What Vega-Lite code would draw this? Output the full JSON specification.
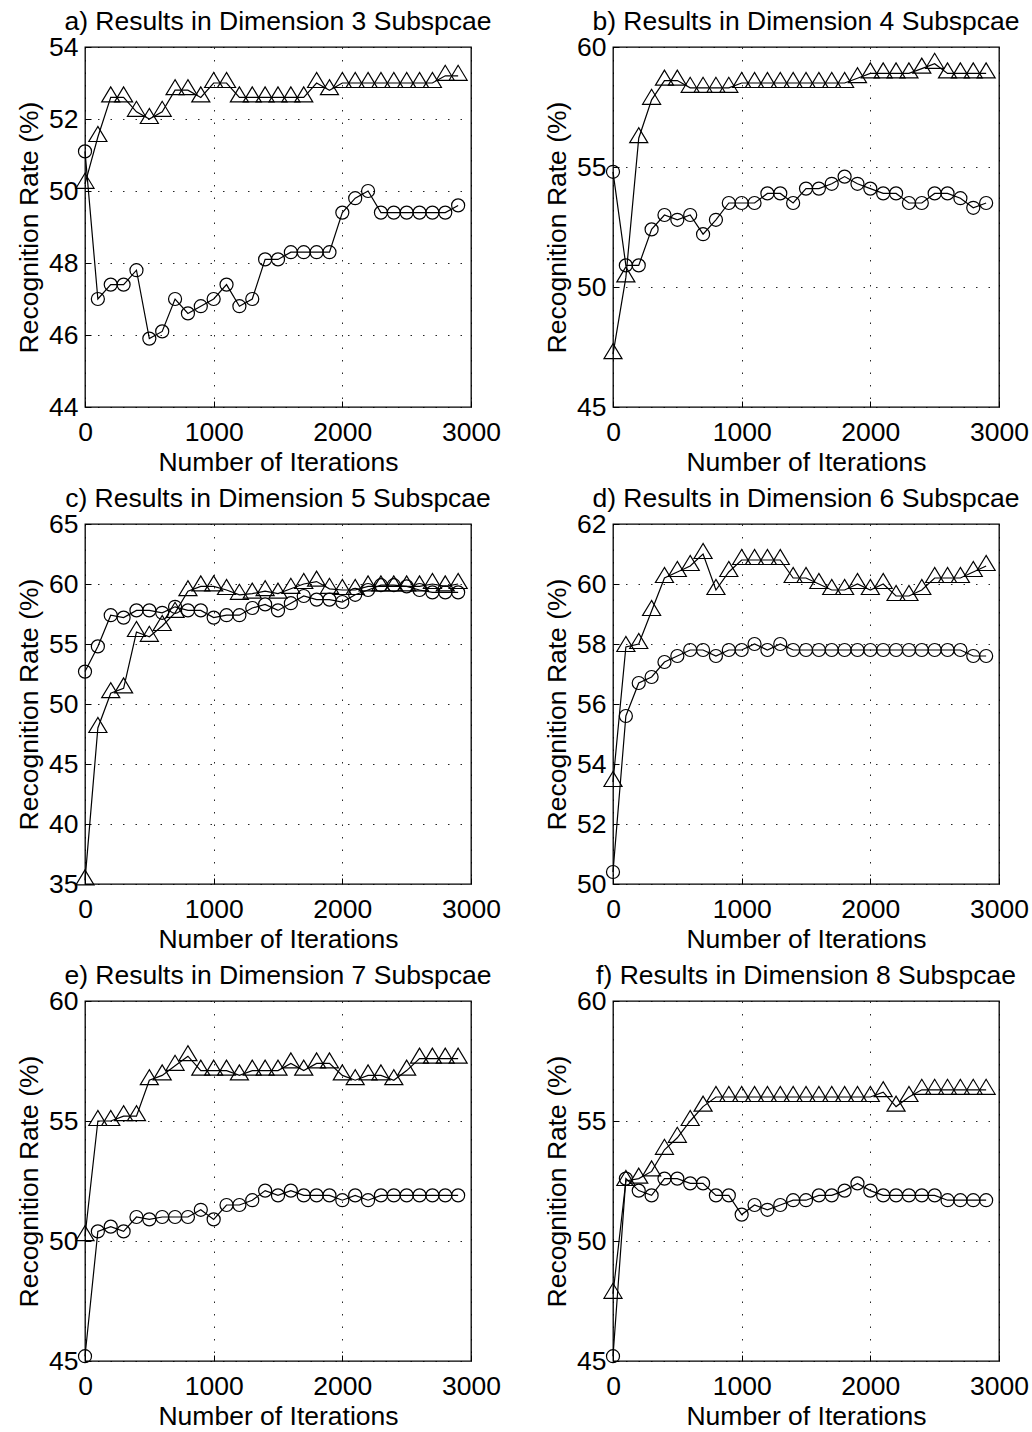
{
"$schema": "https://vega.github.io/schema/vega-lite/v6.json",
"padding": {"left": 15, "top": 7, "right": 5, "bottom": 5},
"bounds": "flush",
"columns": 2,
"spacing": {"row": 117, "column": 142},
"config": {
  "font": "Liberation Sans",
  "view": {"stroke": "#000", "strokeWidth": 1.3},
  "axis": {"domain": false, "grid": true, "gridColor": "#000", "gridDash": [1.5, 11], "gridWidth": 1, "gridOpacity": 0.85,
           "ticks": true, "tickSize": -6, "tickColor": "#000", "tickWidth": 1,
           "labelFont": "Liberation Sans", "labelFontSize": 26.5, "labelColor": "#000",
           "titleFont": "Liberation Sans", "titleFontSize": 26.5, "titleFontWeight": "normal", "titleColor": "#000",
           "labelFlush": false, "labelOverlap": false, "labelBound": false, "format": "d"},
  "axisX": {"labelPadding": 18, "titleY": 55, "titleBaseline": "middle"},
  "axisY": {"labelPadding": 13, "titleX": -56, "titleY": 180, "titleBaseline": "middle", "titleAlign": "center"},
  "title": {"fontSize": 26.5, "fontWeight": "normal", "color": "#000", "offset": -1, "baseline": "bottom", "anchor": "middle", "font": "Liberation Sans"}
},
"datasets": {
"rates": [
{"panel":"a","series":"circle","iteration":0,"rate":51.1},
{"panel":"a","series":"circle","iteration":100,"rate":47.0},
{"panel":"a","series":"circle","iteration":200,"rate":47.4},
{"panel":"a","series":"circle","iteration":300,"rate":47.4},
{"panel":"a","series":"circle","iteration":400,"rate":47.8},
{"panel":"a","series":"circle","iteration":500,"rate":45.9},
{"panel":"a","series":"circle","iteration":600,"rate":46.1},
{"panel":"a","series":"circle","iteration":700,"rate":47.0},
{"panel":"a","series":"circle","iteration":800,"rate":46.6},
{"panel":"a","series":"circle","iteration":900,"rate":46.8},
{"panel":"a","series":"circle","iteration":1000,"rate":47.0},
{"panel":"a","series":"circle","iteration":1100,"rate":47.4},
{"panel":"a","series":"circle","iteration":1200,"rate":46.8},
{"panel":"a","series":"circle","iteration":1300,"rate":47.0},
{"panel":"a","series":"circle","iteration":1400,"rate":48.1},
{"panel":"a","series":"circle","iteration":1500,"rate":48.1},
{"panel":"a","series":"circle","iteration":1600,"rate":48.3},
{"panel":"a","series":"circle","iteration":1700,"rate":48.3},
{"panel":"a","series":"circle","iteration":1800,"rate":48.3},
{"panel":"a","series":"circle","iteration":1900,"rate":48.3},
{"panel":"a","series":"circle","iteration":2000,"rate":49.4},
{"panel":"a","series":"circle","iteration":2100,"rate":49.8},
{"panel":"a","series":"circle","iteration":2200,"rate":50.0},
{"panel":"a","series":"circle","iteration":2300,"rate":49.4},
{"panel":"a","series":"circle","iteration":2400,"rate":49.4},
{"panel":"a","series":"circle","iteration":2500,"rate":49.4},
{"panel":"a","series":"circle","iteration":2600,"rate":49.4},
{"panel":"a","series":"circle","iteration":2700,"rate":49.4},
{"panel":"a","series":"circle","iteration":2800,"rate":49.4},
{"panel":"a","series":"circle","iteration":2900,"rate":49.6},
{"panel":"a","series":"triangle","iteration":0,"rate":50.2},
{"panel":"a","series":"triangle","iteration":100,"rate":51.5},
{"panel":"a","series":"triangle","iteration":200,"rate":52.6},
{"panel":"a","series":"triangle","iteration":300,"rate":52.6},
{"panel":"a","series":"triangle","iteration":400,"rate":52.2},
{"panel":"a","series":"triangle","iteration":500,"rate":52.0},
{"panel":"a","series":"triangle","iteration":600,"rate":52.2},
{"panel":"a","series":"triangle","iteration":700,"rate":52.8},
{"panel":"a","series":"triangle","iteration":800,"rate":52.8},
{"panel":"a","series":"triangle","iteration":900,"rate":52.6},
{"panel":"a","series":"triangle","iteration":1000,"rate":53.0},
{"panel":"a","series":"triangle","iteration":1100,"rate":53.0},
{"panel":"a","series":"triangle","iteration":1200,"rate":52.6},
{"panel":"a","series":"triangle","iteration":1300,"rate":52.6},
{"panel":"a","series":"triangle","iteration":1400,"rate":52.6},
{"panel":"a","series":"triangle","iteration":1500,"rate":52.6},
{"panel":"a","series":"triangle","iteration":1600,"rate":52.6},
{"panel":"a","series":"triangle","iteration":1700,"rate":52.6},
{"panel":"a","series":"triangle","iteration":1800,"rate":53.0},
{"panel":"a","series":"triangle","iteration":1900,"rate":52.8},
{"panel":"a","series":"triangle","iteration":2000,"rate":53.0},
{"panel":"a","series":"triangle","iteration":2100,"rate":53.0},
{"panel":"a","series":"triangle","iteration":2200,"rate":53.0},
{"panel":"a","series":"triangle","iteration":2300,"rate":53.0},
{"panel":"a","series":"triangle","iteration":2400,"rate":53.0},
{"panel":"a","series":"triangle","iteration":2500,"rate":53.0},
{"panel":"a","series":"triangle","iteration":2600,"rate":53.0},
{"panel":"a","series":"triangle","iteration":2700,"rate":53.0},
{"panel":"a","series":"triangle","iteration":2800,"rate":53.2},
{"panel":"a","series":"triangle","iteration":2900,"rate":53.2},
{"panel":"b","series":"circle","iteration":0,"rate":54.8},
{"panel":"b","series":"circle","iteration":100,"rate":50.9},
{"panel":"b","series":"circle","iteration":200,"rate":50.9},
{"panel":"b","series":"circle","iteration":300,"rate":52.4},
{"panel":"b","series":"circle","iteration":400,"rate":53.0},
{"panel":"b","series":"circle","iteration":500,"rate":52.8},
{"panel":"b","series":"circle","iteration":600,"rate":53.0},
{"panel":"b","series":"circle","iteration":700,"rate":52.2},
{"panel":"b","series":"circle","iteration":800,"rate":52.8},
{"panel":"b","series":"circle","iteration":900,"rate":53.5},
{"panel":"b","series":"circle","iteration":1000,"rate":53.5},
{"panel":"b","series":"circle","iteration":1100,"rate":53.5},
{"panel":"b","series":"circle","iteration":1200,"rate":53.9},
{"panel":"b","series":"circle","iteration":1300,"rate":53.9},
{"panel":"b","series":"circle","iteration":1400,"rate":53.5},
{"panel":"b","series":"circle","iteration":1500,"rate":54.1},
{"panel":"b","series":"circle","iteration":1600,"rate":54.1},
{"panel":"b","series":"circle","iteration":1700,"rate":54.3},
{"panel":"b","series":"circle","iteration":1800,"rate":54.6},
{"panel":"b","series":"circle","iteration":1900,"rate":54.3},
{"panel":"b","series":"circle","iteration":2000,"rate":54.1},
{"panel":"b","series":"circle","iteration":2100,"rate":53.9},
{"panel":"b","series":"circle","iteration":2200,"rate":53.9},
{"panel":"b","series":"circle","iteration":2300,"rate":53.5},
{"panel":"b","series":"circle","iteration":2400,"rate":53.5},
{"panel":"b","series":"circle","iteration":2500,"rate":53.9},
{"panel":"b","series":"circle","iteration":2600,"rate":53.9},
{"panel":"b","series":"circle","iteration":2700,"rate":53.7},
{"panel":"b","series":"circle","iteration":2800,"rate":53.3},
{"panel":"b","series":"circle","iteration":2900,"rate":53.5},
{"panel":"b","series":"triangle","iteration":0,"rate":47.2},
{"panel":"b","series":"triangle","iteration":100,"rate":50.4},
{"panel":"b","series":"triangle","iteration":200,"rate":56.2},
{"panel":"b","series":"triangle","iteration":300,"rate":57.8},
{"panel":"b","series":"triangle","iteration":400,"rate":58.6},
{"panel":"b","series":"triangle","iteration":500,"rate":58.6},
{"panel":"b","series":"triangle","iteration":600,"rate":58.3},
{"panel":"b","series":"triangle","iteration":700,"rate":58.3},
{"panel":"b","series":"triangle","iteration":800,"rate":58.3},
{"panel":"b","series":"triangle","iteration":900,"rate":58.3},
{"panel":"b","series":"triangle","iteration":1000,"rate":58.5},
{"panel":"b","series":"triangle","iteration":1100,"rate":58.5},
{"panel":"b","series":"triangle","iteration":1200,"rate":58.5},
{"panel":"b","series":"triangle","iteration":1300,"rate":58.5},
{"panel":"b","series":"triangle","iteration":1400,"rate":58.5},
{"panel":"b","series":"triangle","iteration":1500,"rate":58.5},
{"panel":"b","series":"triangle","iteration":1600,"rate":58.5},
{"panel":"b","series":"triangle","iteration":1700,"rate":58.5},
{"panel":"b","series":"triangle","iteration":1800,"rate":58.5},
{"panel":"b","series":"triangle","iteration":1900,"rate":58.7},
{"panel":"b","series":"triangle","iteration":2000,"rate":58.9},
{"panel":"b","series":"triangle","iteration":2100,"rate":58.9},
{"panel":"b","series":"triangle","iteration":2200,"rate":58.9},
{"panel":"b","series":"triangle","iteration":2300,"rate":58.9},
{"panel":"b","series":"triangle","iteration":2400,"rate":59.1},
{"panel":"b","series":"triangle","iteration":2500,"rate":59.3},
{"panel":"b","series":"triangle","iteration":2600,"rate":58.9},
{"panel":"b","series":"triangle","iteration":2700,"rate":58.9},
{"panel":"b","series":"triangle","iteration":2800,"rate":58.9},
{"panel":"b","series":"triangle","iteration":2900,"rate":58.9},
{"panel":"c","series":"circle","iteration":0,"rate":52.7},
{"panel":"c","series":"circle","iteration":100,"rate":54.8},
{"panel":"c","series":"circle","iteration":200,"rate":57.4},
{"panel":"c","series":"circle","iteration":300,"rate":57.2},
{"panel":"c","series":"circle","iteration":400,"rate":57.8},
{"panel":"c","series":"circle","iteration":500,"rate":57.8},
{"panel":"c","series":"circle","iteration":600,"rate":57.6},
{"panel":"c","series":"circle","iteration":700,"rate":58.1},
{"panel":"c","series":"circle","iteration":800,"rate":57.8},
{"panel":"c","series":"circle","iteration":900,"rate":57.8},
{"panel":"c","series":"circle","iteration":1000,"rate":57.2},
{"panel":"c","series":"circle","iteration":1100,"rate":57.4},
{"panel":"c","series":"circle","iteration":1200,"rate":57.4},
{"panel":"c","series":"circle","iteration":1300,"rate":58.0},
{"panel":"c","series":"circle","iteration":1400,"rate":58.3},
{"panel":"c","series":"circle","iteration":1500,"rate":57.8},
{"panel":"c","series":"circle","iteration":1600,"rate":58.4},
{"panel":"c","series":"circle","iteration":1700,"rate":59.0},
{"panel":"c","series":"circle","iteration":1800,"rate":58.7},
{"panel":"c","series":"circle","iteration":1900,"rate":58.7},
{"panel":"c","series":"circle","iteration":2000,"rate":58.5},
{"panel":"c","series":"circle","iteration":2100,"rate":59.1},
{"panel":"c","series":"circle","iteration":2200,"rate":59.5},
{"panel":"c","series":"circle","iteration":2300,"rate":59.9},
{"panel":"c","series":"circle","iteration":2400,"rate":59.9},
{"panel":"c","series":"circle","iteration":2500,"rate":59.8},
{"panel":"c","series":"circle","iteration":2600,"rate":59.5},
{"panel":"c","series":"circle","iteration":2700,"rate":59.3},
{"panel":"c","series":"circle","iteration":2800,"rate":59.3},
{"panel":"c","series":"circle","iteration":2900,"rate":59.3},
{"panel":"c","series":"triangle","iteration":0,"rate":35.3},
{"panel":"c","series":"triangle","iteration":100,"rate":48.0},
{"panel":"c","series":"triangle","iteration":200,"rate":50.9},
{"panel":"c","series":"triangle","iteration":300,"rate":51.3},
{"panel":"c","series":"triangle","iteration":400,"rate":56.0},
{"panel":"c","series":"triangle","iteration":500,"rate":55.6},
{"panel":"c","series":"triangle","iteration":600,"rate":56.5},
{"panel":"c","series":"triangle","iteration":700,"rate":57.6},
{"panel":"c","series":"triangle","iteration":800,"rate":59.4},
{"panel":"c","series":"triangle","iteration":900,"rate":59.8},
{"panel":"c","series":"triangle","iteration":1000,"rate":59.8},
{"panel":"c","series":"triangle","iteration":1100,"rate":59.5},
{"panel":"c","series":"triangle","iteration":1200,"rate":59.1},
{"panel":"c","series":"triangle","iteration":1300,"rate":59.2},
{"panel":"c","series":"triangle","iteration":1400,"rate":59.4},
{"panel":"c","series":"triangle","iteration":1500,"rate":59.2},
{"panel":"c","series":"triangle","iteration":1600,"rate":59.6},
{"panel":"c","series":"triangle","iteration":1700,"rate":60.0},
{"panel":"c","series":"triangle","iteration":1800,"rate":60.2},
{"panel":"c","series":"triangle","iteration":1900,"rate":59.6},
{"panel":"c","series":"triangle","iteration":2000,"rate":59.5},
{"panel":"c","series":"triangle","iteration":2100,"rate":59.5},
{"panel":"c","series":"triangle","iteration":2200,"rate":59.8},
{"panel":"c","series":"triangle","iteration":2300,"rate":59.8},
{"panel":"c","series":"triangle","iteration":2400,"rate":59.8},
{"panel":"c","series":"triangle","iteration":2500,"rate":59.8},
{"panel":"c","series":"triangle","iteration":2600,"rate":59.8},
{"panel":"c","series":"triangle","iteration":2700,"rate":60.0},
{"panel":"c","series":"triangle","iteration":2800,"rate":59.8},
{"panel":"c","series":"triangle","iteration":2900,"rate":60.0},
{"panel":"d","series":"circle","iteration":0,"rate":50.4},
{"panel":"d","series":"circle","iteration":100,"rate":55.6},
{"panel":"d","series":"circle","iteration":200,"rate":56.7},
{"panel":"d","series":"circle","iteration":300,"rate":56.9},
{"panel":"d","series":"circle","iteration":400,"rate":57.4},
{"panel":"d","series":"circle","iteration":500,"rate":57.6},
{"panel":"d","series":"circle","iteration":600,"rate":57.8},
{"panel":"d","series":"circle","iteration":700,"rate":57.8},
{"panel":"d","series":"circle","iteration":800,"rate":57.6},
{"panel":"d","series":"circle","iteration":900,"rate":57.8},
{"panel":"d","series":"circle","iteration":1000,"rate":57.8},
{"panel":"d","series":"circle","iteration":1100,"rate":58.0},
{"panel":"d","series":"circle","iteration":1200,"rate":57.8},
{"panel":"d","series":"circle","iteration":1300,"rate":58.0},
{"panel":"d","series":"circle","iteration":1400,"rate":57.8},
{"panel":"d","series":"circle","iteration":1500,"rate":57.8},
{"panel":"d","series":"circle","iteration":1600,"rate":57.8},
{"panel":"d","series":"circle","iteration":1700,"rate":57.8},
{"panel":"d","series":"circle","iteration":1800,"rate":57.8},
{"panel":"d","series":"circle","iteration":1900,"rate":57.8},
{"panel":"d","series":"circle","iteration":2000,"rate":57.8},
{"panel":"d","series":"circle","iteration":2100,"rate":57.8},
{"panel":"d","series":"circle","iteration":2200,"rate":57.8},
{"panel":"d","series":"circle","iteration":2300,"rate":57.8},
{"panel":"d","series":"circle","iteration":2400,"rate":57.8},
{"panel":"d","series":"circle","iteration":2500,"rate":57.8},
{"panel":"d","series":"circle","iteration":2600,"rate":57.8},
{"panel":"d","series":"circle","iteration":2700,"rate":57.8},
{"panel":"d","series":"circle","iteration":2800,"rate":57.6},
{"panel":"d","series":"circle","iteration":2900,"rate":57.6},
{"panel":"d","series":"triangle","iteration":0,"rate":53.4},
{"panel":"d","series":"triangle","iteration":100,"rate":57.9},
{"panel":"d","series":"triangle","iteration":200,"rate":58.0},
{"panel":"d","series":"triangle","iteration":300,"rate":59.1},
{"panel":"d","series":"triangle","iteration":400,"rate":60.2},
{"panel":"d","series":"triangle","iteration":500,"rate":60.4},
{"panel":"d","series":"triangle","iteration":600,"rate":60.6},
{"panel":"d","series":"triangle","iteration":700,"rate":61.0},
{"panel":"d","series":"triangle","iteration":800,"rate":59.8},
{"panel":"d","series":"triangle","iteration":900,"rate":60.4},
{"panel":"d","series":"triangle","iteration":1000,"rate":60.8},
{"panel":"d","series":"triangle","iteration":1100,"rate":60.8},
{"panel":"d","series":"triangle","iteration":1200,"rate":60.8},
{"panel":"d","series":"triangle","iteration":1300,"rate":60.8},
{"panel":"d","series":"triangle","iteration":1400,"rate":60.2},
{"panel":"d","series":"triangle","iteration":1500,"rate":60.2},
{"panel":"d","series":"triangle","iteration":1600,"rate":60.0},
{"panel":"d","series":"triangle","iteration":1700,"rate":59.8},
{"panel":"d","series":"triangle","iteration":1800,"rate":59.8},
{"panel":"d","series":"triangle","iteration":1900,"rate":60.0},
{"panel":"d","series":"triangle","iteration":2000,"rate":59.8},
{"panel":"d","series":"triangle","iteration":2100,"rate":60.0},
{"panel":"d","series":"triangle","iteration":2200,"rate":59.6},
{"panel":"d","series":"triangle","iteration":2300,"rate":59.6},
{"panel":"d","series":"triangle","iteration":2400,"rate":59.8},
{"panel":"d","series":"triangle","iteration":2500,"rate":60.2},
{"panel":"d","series":"triangle","iteration":2600,"rate":60.2},
{"panel":"d","series":"triangle","iteration":2700,"rate":60.2},
{"panel":"d","series":"triangle","iteration":2800,"rate":60.4},
{"panel":"d","series":"triangle","iteration":2900,"rate":60.6},
{"panel":"e","series":"circle","iteration":0,"rate":45.2},
{"panel":"e","series":"circle","iteration":100,"rate":50.4},
{"panel":"e","series":"circle","iteration":200,"rate":50.6},
{"panel":"e","series":"circle","iteration":300,"rate":50.4},
{"panel":"e","series":"circle","iteration":400,"rate":51.0},
{"panel":"e","series":"circle","iteration":500,"rate":50.9},
{"panel":"e","series":"circle","iteration":600,"rate":51.0},
{"panel":"e","series":"circle","iteration":700,"rate":51.0},
{"panel":"e","series":"circle","iteration":800,"rate":51.0},
{"panel":"e","series":"circle","iteration":900,"rate":51.3},
{"panel":"e","series":"circle","iteration":1000,"rate":50.9},
{"panel":"e","series":"circle","iteration":1100,"rate":51.5},
{"panel":"e","series":"circle","iteration":1200,"rate":51.5},
{"panel":"e","series":"circle","iteration":1300,"rate":51.7},
{"panel":"e","series":"circle","iteration":1400,"rate":52.1},
{"panel":"e","series":"circle","iteration":1500,"rate":51.9},
{"panel":"e","series":"circle","iteration":1600,"rate":52.1},
{"panel":"e","series":"circle","iteration":1700,"rate":51.9},
{"panel":"e","series":"circle","iteration":1800,"rate":51.9},
{"panel":"e","series":"circle","iteration":1900,"rate":51.9},
{"panel":"e","series":"circle","iteration":2000,"rate":51.7},
{"panel":"e","series":"circle","iteration":2100,"rate":51.9},
{"panel":"e","series":"circle","iteration":2200,"rate":51.7},
{"panel":"e","series":"circle","iteration":2300,"rate":51.9},
{"panel":"e","series":"circle","iteration":2400,"rate":51.9},
{"panel":"e","series":"circle","iteration":2500,"rate":51.9},
{"panel":"e","series":"circle","iteration":2600,"rate":51.9},
{"panel":"e","series":"circle","iteration":2700,"rate":51.9},
{"panel":"e","series":"circle","iteration":2800,"rate":51.9},
{"panel":"e","series":"circle","iteration":2900,"rate":51.9},
{"panel":"e","series":"triangle","iteration":0,"rate":50.2},
{"panel":"e","series":"triangle","iteration":100,"rate":55.0},
{"panel":"e","series":"triangle","iteration":200,"rate":55.0},
{"panel":"e","series":"triangle","iteration":300,"rate":55.2},
{"panel":"e","series":"triangle","iteration":400,"rate":55.2},
{"panel":"e","series":"triangle","iteration":500,"rate":56.7},
{"panel":"e","series":"triangle","iteration":600,"rate":56.9},
{"panel":"e","series":"triangle","iteration":700,"rate":57.3},
{"panel":"e","series":"triangle","iteration":800,"rate":57.7},
{"panel":"e","series":"triangle","iteration":900,"rate":57.1},
{"panel":"e","series":"triangle","iteration":1000,"rate":57.1},
{"panel":"e","series":"triangle","iteration":1100,"rate":57.1},
{"panel":"e","series":"triangle","iteration":1200,"rate":56.9},
{"panel":"e","series":"triangle","iteration":1300,"rate":57.1},
{"panel":"e","series":"triangle","iteration":1400,"rate":57.1},
{"panel":"e","series":"triangle","iteration":1500,"rate":57.1},
{"panel":"e","series":"triangle","iteration":1600,"rate":57.4},
{"panel":"e","series":"triangle","iteration":1700,"rate":57.1},
{"panel":"e","series":"triangle","iteration":1800,"rate":57.4},
{"panel":"e","series":"triangle","iteration":1900,"rate":57.4},
{"panel":"e","series":"triangle","iteration":2000,"rate":56.9},
{"panel":"e","series":"triangle","iteration":2100,"rate":56.7},
{"panel":"e","series":"triangle","iteration":2200,"rate":56.9},
{"panel":"e","series":"triangle","iteration":2300,"rate":56.9},
{"panel":"e","series":"triangle","iteration":2400,"rate":56.7},
{"panel":"e","series":"triangle","iteration":2500,"rate":57.1},
{"panel":"e","series":"triangle","iteration":2600,"rate":57.6},
{"panel":"e","series":"triangle","iteration":2700,"rate":57.6},
{"panel":"e","series":"triangle","iteration":2800,"rate":57.6},
{"panel":"e","series":"triangle","iteration":2900,"rate":57.6},
{"panel":"f","series":"circle","iteration":0,"rate":45.2},
{"panel":"f","series":"circle","iteration":100,"rate":52.6},
{"panel":"f","series":"circle","iteration":200,"rate":52.1},
{"panel":"f","series":"circle","iteration":300,"rate":51.9},
{"panel":"f","series":"circle","iteration":400,"rate":52.6},
{"panel":"f","series":"circle","iteration":500,"rate":52.6},
{"panel":"f","series":"circle","iteration":600,"rate":52.4},
{"panel":"f","series":"circle","iteration":700,"rate":52.4},
{"panel":"f","series":"circle","iteration":800,"rate":51.9},
{"panel":"f","series":"circle","iteration":900,"rate":51.9},
{"panel":"f","series":"circle","iteration":1000,"rate":51.1},
{"panel":"f","series":"circle","iteration":1100,"rate":51.5},
{"panel":"f","series":"circle","iteration":1200,"rate":51.3},
{"panel":"f","series":"circle","iteration":1300,"rate":51.5},
{"panel":"f","series":"circle","iteration":1400,"rate":51.7},
{"panel":"f","series":"circle","iteration":1500,"rate":51.7},
{"panel":"f","series":"circle","iteration":1600,"rate":51.9},
{"panel":"f","series":"circle","iteration":1700,"rate":51.9},
{"panel":"f","series":"circle","iteration":1800,"rate":52.1},
{"panel":"f","series":"circle","iteration":1900,"rate":52.4},
{"panel":"f","series":"circle","iteration":2000,"rate":52.1},
{"panel":"f","series":"circle","iteration":2100,"rate":51.9},
{"panel":"f","series":"circle","iteration":2200,"rate":51.9},
{"panel":"f","series":"circle","iteration":2300,"rate":51.9},
{"panel":"f","series":"circle","iteration":2400,"rate":51.9},
{"panel":"f","series":"circle","iteration":2500,"rate":51.9},
{"panel":"f","series":"circle","iteration":2600,"rate":51.7},
{"panel":"f","series":"circle","iteration":2700,"rate":51.7},
{"panel":"f","series":"circle","iteration":2800,"rate":51.7},
{"panel":"f","series":"circle","iteration":2900,"rate":51.7},
{"panel":"f","series":"triangle","iteration":0,"rate":47.8},
{"panel":"f","series":"triangle","iteration":100,"rate":52.5},
{"panel":"f","series":"triangle","iteration":200,"rate":52.6},
{"panel":"f","series":"triangle","iteration":300,"rate":52.9},
{"panel":"f","series":"triangle","iteration":400,"rate":53.8},
{"panel":"f","series":"triangle","iteration":500,"rate":54.3},
{"panel":"f","series":"triangle","iteration":600,"rate":55.0},
{"panel":"f","series":"triangle","iteration":700,"rate":55.6},
{"panel":"f","series":"triangle","iteration":800,"rate":56.0},
{"panel":"f","series":"triangle","iteration":900,"rate":56.0},
{"panel":"f","series":"triangle","iteration":1000,"rate":56.0},
{"panel":"f","series":"triangle","iteration":1100,"rate":56.0},
{"panel":"f","series":"triangle","iteration":1200,"rate":56.0},
{"panel":"f","series":"triangle","iteration":1300,"rate":56.0},
{"panel":"f","series":"triangle","iteration":1400,"rate":56.0},
{"panel":"f","series":"triangle","iteration":1500,"rate":56.0},
{"panel":"f","series":"triangle","iteration":1600,"rate":56.0},
{"panel":"f","series":"triangle","iteration":1700,"rate":56.0},
{"panel":"f","series":"triangle","iteration":1800,"rate":56.0},
{"panel":"f","series":"triangle","iteration":1900,"rate":56.0},
{"panel":"f","series":"triangle","iteration":2000,"rate":56.0},
{"panel":"f","series":"triangle","iteration":2100,"rate":56.2},
{"panel":"f","series":"triangle","iteration":2200,"rate":55.6},
{"panel":"f","series":"triangle","iteration":2300,"rate":56.0},
{"panel":"f","series":"triangle","iteration":2400,"rate":56.3},
{"panel":"f","series":"triangle","iteration":2500,"rate":56.3},
{"panel":"f","series":"triangle","iteration":2600,"rate":56.3},
{"panel":"f","series":"triangle","iteration":2700,"rate":56.3},
{"panel":"f","series":"triangle","iteration":2800,"rate":56.3},
{"panel":"f","series":"triangle","iteration":2900,"rate":56.3}
]
},
"concat": [
{
  "title": "a) Results in Dimension 3 Subspcae",
  "width": 386, "height": 360,
  "data": {"name": "rates"},
  "transform": [{"filter": "datum.panel === 'a'"}],
  "encoding": {
    "x": {"field": "iteration", "type": "quantitative", "scale": {"domain": [0, 3000]}, "axis": {"values": [0, 1000, 2000, 3000], "title": "Number of Iterations"}},
    "y": {"field": "rate", "type": "quantitative", "scale": {"domain": [44, 54]}, "axis": {"values": [44, 46, 48, 50, 52, 54], "title": "Recognition Rate (%)"}}
  },
  "layer": [
    {"mark": {"type": "line", "color": "#000", "strokeWidth": 1.2}, "encoding": {"detail": {"field": "series"}}},
    {"transform": [{"filter": "datum.series === 'circle'"}], "mark": {"type": "point", "shape": "circle", "filled": false, "stroke": "#000", "strokeWidth": 1.2, "size": 170, "opacity": 1}},
    {"transform": [{"filter": "datum.series === 'triangle'"}], "mark": {"type": "point", "shape": "M0,-1L-0.86,0.43L0.86,0.43Z", "filled": false, "stroke": "#000", "strokeWidth": 1.2, "size": 441, "opacity": 1}}
  ]
},
{
  "title": "b) Results in Dimension 4 Subspcae",
  "width": 386, "height": 360,
  "data": {"name": "rates"},
  "transform": [{"filter": "datum.panel === 'b'"}],
  "encoding": {
    "x": {"field": "iteration", "type": "quantitative", "scale": {"domain": [0, 3000]}, "axis": {"values": [0, 1000, 2000, 3000], "title": "Number of Iterations"}},
    "y": {"field": "rate", "type": "quantitative", "scale": {"domain": [45, 60]}, "axis": {"values": [45, 50, 55, 60], "title": "Recognition Rate (%)"}}
  },
  "layer": [
    {"mark": {"type": "line", "color": "#000", "strokeWidth": 1.2}, "encoding": {"detail": {"field": "series"}}},
    {"transform": [{"filter": "datum.series === 'circle'"}], "mark": {"type": "point", "shape": "circle", "filled": false, "stroke": "#000", "strokeWidth": 1.2, "size": 170, "opacity": 1}},
    {"transform": [{"filter": "datum.series === 'triangle'"}], "mark": {"type": "point", "shape": "M0,-1L-0.86,0.43L0.86,0.43Z", "filled": false, "stroke": "#000", "strokeWidth": 1.2, "size": 441, "opacity": 1}}
  ]
},
{
  "title": "c) Results in Dimension 5 Subspcae",
  "width": 386, "height": 360,
  "data": {"name": "rates"},
  "transform": [{"filter": "datum.panel === 'c'"}],
  "encoding": {
    "x": {"field": "iteration", "type": "quantitative", "scale": {"domain": [0, 3000]}, "axis": {"values": [0, 1000, 2000, 3000], "title": "Number of Iterations"}},
    "y": {"field": "rate", "type": "quantitative", "scale": {"domain": [35, 65]}, "axis": {"values": [35, 40, 45, 50, 55, 60, 65], "title": "Recognition Rate (%)"}}
  },
  "layer": [
    {"mark": {"type": "line", "color": "#000", "strokeWidth": 1.2}, "encoding": {"detail": {"field": "series"}}},
    {"transform": [{"filter": "datum.series === 'circle'"}], "mark": {"type": "point", "shape": "circle", "filled": false, "stroke": "#000", "strokeWidth": 1.2, "size": 170, "opacity": 1}},
    {"transform": [{"filter": "datum.series === 'triangle'"}], "mark": {"type": "point", "shape": "M0,-1L-0.86,0.43L0.86,0.43Z", "filled": false, "stroke": "#000", "strokeWidth": 1.2, "size": 441, "opacity": 1}}
  ]
},
{
  "title": "d) Results in Dimension 6 Subspcae",
  "width": 386, "height": 360,
  "data": {"name": "rates"},
  "transform": [{"filter": "datum.panel === 'd'"}],
  "encoding": {
    "x": {"field": "iteration", "type": "quantitative", "scale": {"domain": [0, 3000]}, "axis": {"values": [0, 1000, 2000, 3000], "title": "Number of Iterations"}},
    "y": {"field": "rate", "type": "quantitative", "scale": {"domain": [50, 62]}, "axis": {"values": [50, 52, 54, 56, 58, 60, 62], "title": "Recognition Rate (%)"}}
  },
  "layer": [
    {"mark": {"type": "line", "color": "#000", "strokeWidth": 1.2}, "encoding": {"detail": {"field": "series"}}},
    {"transform": [{"filter": "datum.series === 'circle'"}], "mark": {"type": "point", "shape": "circle", "filled": false, "stroke": "#000", "strokeWidth": 1.2, "size": 170, "opacity": 1}},
    {"transform": [{"filter": "datum.series === 'triangle'"}], "mark": {"type": "point", "shape": "M0,-1L-0.86,0.43L0.86,0.43Z", "filled": false, "stroke": "#000", "strokeWidth": 1.2, "size": 441, "opacity": 1}}
  ]
},
{
  "title": "e) Results in Dimension 7 Subspcae",
  "width": 386, "height": 360,
  "data": {"name": "rates"},
  "transform": [{"filter": "datum.panel === 'e'"}],
  "encoding": {
    "x": {"field": "iteration", "type": "quantitative", "scale": {"domain": [0, 3000]}, "axis": {"values": [0, 1000, 2000, 3000], "title": "Number of Iterations"}},
    "y": {"field": "rate", "type": "quantitative", "scale": {"domain": [45, 60]}, "axis": {"values": [45, 50, 55, 60], "title": "Recognition Rate (%)"}}
  },
  "layer": [
    {"mark": {"type": "line", "color": "#000", "strokeWidth": 1.2}, "encoding": {"detail": {"field": "series"}}},
    {"transform": [{"filter": "datum.series === 'circle'"}], "mark": {"type": "point", "shape": "circle", "filled": false, "stroke": "#000", "strokeWidth": 1.2, "size": 170, "opacity": 1}},
    {"transform": [{"filter": "datum.series === 'triangle'"}], "mark": {"type": "point", "shape": "M0,-1L-0.86,0.43L0.86,0.43Z", "filled": false, "stroke": "#000", "strokeWidth": 1.2, "size": 441, "opacity": 1}}
  ]
},
{
  "title": "f) Results in Dimension 8 Subspcae",
  "width": 386, "height": 360,
  "data": {"name": "rates"},
  "transform": [{"filter": "datum.panel === 'f'"}],
  "encoding": {
    "x": {"field": "iteration", "type": "quantitative", "scale": {"domain": [0, 3000]}, "axis": {"values": [0, 1000, 2000, 3000], "title": "Number of Iterations"}},
    "y": {"field": "rate", "type": "quantitative", "scale": {"domain": [45, 60]}, "axis": {"values": [45, 50, 55, 60], "title": "Recognition Rate (%)"}}
  },
  "layer": [
    {"mark": {"type": "line", "color": "#000", "strokeWidth": 1.2}, "encoding": {"detail": {"field": "series"}}},
    {"transform": [{"filter": "datum.series === 'circle'"}], "mark": {"type": "point", "shape": "circle", "filled": false, "stroke": "#000", "strokeWidth": 1.2, "size": 170, "opacity": 1}},
    {"transform": [{"filter": "datum.series === 'triangle'"}], "mark": {"type": "point", "shape": "M0,-1L-0.86,0.43L0.86,0.43Z", "filled": false, "stroke": "#000", "strokeWidth": 1.2, "size": 441, "opacity": 1}}
  ]
}
]
}
